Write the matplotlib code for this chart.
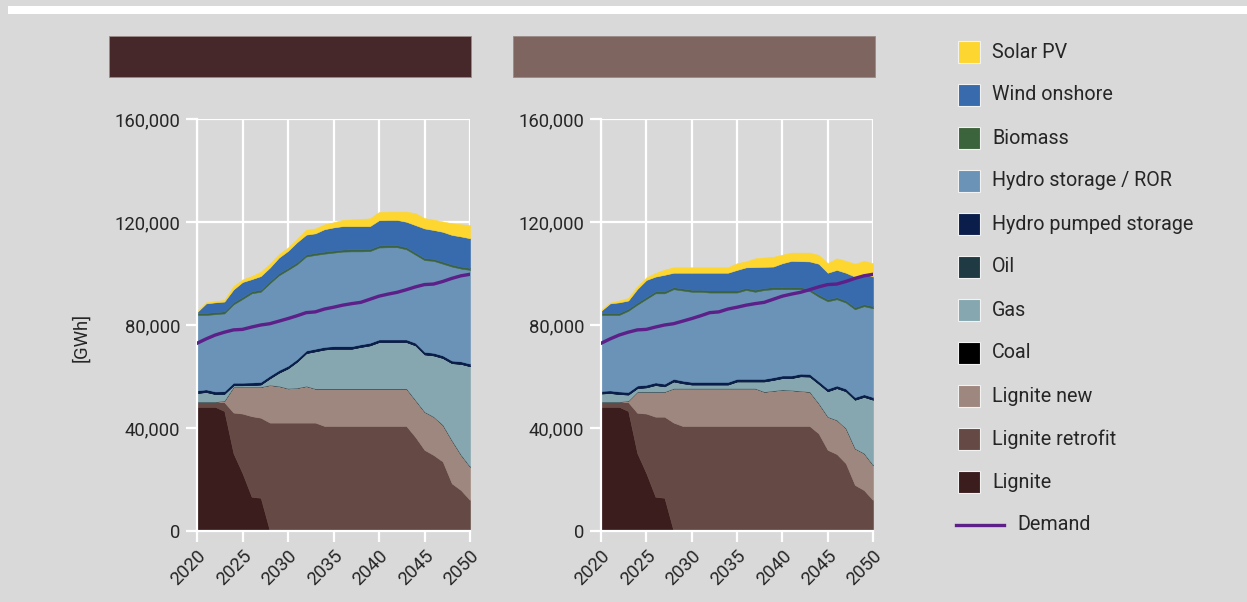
import matplotlib
matplotlib.use('Agg')
import matplotlib.pyplot as plt
import numpy as np
from matplotlib.lines import Line2D
from matplotlib.patches import Rectangle
from matplotlib.ticker import FuncFormatter

W, H = 1247, 602
BG = '#d9d9d9'

years = np.arange(2020, 2051)

# generation per technology, thousand GWh
# --- left scenario ---
lignite_l = [48.2, 48.2, 48.2, 46.6, 30.2, 22.4, 13.3, 12.9, 0, 0, 0, 0, 0, 0, 0, 0,
             0, 0, 0, 0, 0, 0, 0, 0, 0, 0, 0, 0, 0, 0, 0]
retrofit_l = [2.0, 2.0, 2.0, 3.4, 15.8, 23.2, 31.3, 31.1, 42.1, 42.1, 42.1, 42.1, 42.1, 42.1,
              40.8, 40.8, 40.8, 40.8, 40.8, 40.8, 40.8, 40.8, 40.8, 40.8,
              36.5, 31.5, 29.5, 27.0, 18.5, 15.9, 12.0]
lignite_new_l = [0, 0, 0, 0.6, 10.0, 10.4, 11.4, 12.0, 14.6, 14.2, 13.3, 13.5, 14.2, 13.2,
                 14.5, 14.5, 14.5, 14.5, 14.5, 14.5, 14.5, 14.5, 14.5, 14.5,
                 14.3, 14.8, 14.9, 14.2, 16.7, 13.7, 13.0]
coal_l = [0, 0, 0, 0, 0, 0, 0, 0, 0, 0, 0, 0, 0, 0, 0, 0, 0, 0, 0, 0, 0, 0, 0, 0, 0, 0, 0, 0, 0, 0, 0]
gas_l = [3.4, 3.8, 3.0, 2.7, 0.6, 0.6, 0.7, 0.9, 2.6, 5.2, 7.8, 10.2, 12.8, 14.5,
         15.2, 15.5, 15.5, 15.5, 16.2, 16.8, 18.1, 18.1, 18.1, 18.1,
         21.3, 22.3, 23.8, 26.0, 30.0, 35.3, 39.0]
oil_l = [0, 0, 0, 0, 0, 0, 0, 0, 0, 0, 0, 0, 0, 0, 0, 0, 0, 0, 0, 0, 0, 0, 0, 0, 0, 0, 0, 0, 0, 0, 0]
pumped_l = [1.0, 1.0, 1.0, 1.0, 1.0, 1.0, 1.0, 1.0, 1.0, 1.0, 1.0, 1.0, 1.0, 1.0, 1.0, 1.0,
            1.0, 1.0, 1.0, 1.0, 1.0, 1.0, 1.0, 1.0, 1.0, 1.0, 1.0, 1.0, 1.0, 1.0, 1.0]
hydro_l = [29.3, 28.9, 30.0, 30.2, 30.4, 32.5, 34.6, 35.0, 35.9, 36.8, 37.2, 36.8, 36.5, 36.4,
           36.2, 36.3, 36.7, 36.8, 36.1, 35.6, 35.7, 35.8, 35.8, 35.0,
           34.2, 35.6, 35.7, 35.6, 36.5, 36.0, 36.4]
biomass_l = [0.6, 0.8, 0.8, 0.8, 0.8, 0.8, 0.8, 0.8, 0.8, 0.8, 0.8, 0.8, 0.8, 0.8, 0.8, 0.8,
             0.8, 0.8, 0.8, 0.8, 0.8, 0.8, 0.8, 0.8, 0.8, 0.8, 0.8, 0.8, 0.8, 0.8, 0.8]
wind_l = [0.5, 3.7, 3.8, 3.8, 5.0, 5.8, 4.7, 5.3, 5.3, 6.1, 6.6, 7.8, 7.7, 7.6,
          8.7, 9.0, 9.1, 9.0, 9.0, 8.9, 9.8, 9.8, 9.8, 9.9,
          10.7, 11.5, 11.2, 11.6, 11.5, 11.7, 11.5]
solar_l = [0.3, 0.4, 0.5, 0.6, 1.3, 1.0, 1.2, 1.7, 1.5, 1.3, 1.3, 1.3, 1.9, 1.9,
           1.9, 2.0, 2.4, 2.6, 2.8, 3.0, 3.2, 3.2, 3.2, 3.9,
           4.6, 4.0, 4.0, 4.0, 4.5, 4.7, 5.1]

# --- right scenario ---
lignite_r = [48.2, 48.2, 48.2, 46.6, 30.2, 22.4, 13.3, 12.9, 0, 0, 0, 0, 0, 0, 0, 0,
             0, 0, 0, 0, 0, 0, 0, 0, 0, 0, 0, 0, 0, 0, 0]
retrofit_r = [2.0, 2.0, 2.0, 3.4, 15.7, 23.2, 31.1, 31.5, 42.1,
              40.8, 40.8, 40.8, 40.8, 40.8, 40.8, 40.8, 40.8, 40.8, 40.8, 40.8, 40.8, 40.8, 40.8, 40.8,
              37.9, 31.5, 29.9, 26.3, 17.9, 15.9, 12.0]
lignite_new_r = [0, 0, 0, 0.6, 8.2, 8.5, 9.7, 9.7, 13.3,
                 14.6, 14.6, 14.6, 14.6, 14.6, 14.6, 14.6, 14.6, 14.6,
                 13.3, 13.7, 14.1, 13.9, 13.6, 13.3,
                 11.7, 12.9, 13.2, 13.6, 14.2, 14.3, 13.6]
coal_r = [0, 0, 0, 0, 0, 0, 0, 0, 0, 0, 0, 0, 0, 0, 0, 0, 0, 0, 0, 0, 0, 0, 0, 0, 0, 0, 0, 0, 0, 0, 0]
gas_r = [3.2, 3.4, 3.0, 2.4, 1.4, 1.7, 2.6, 2.1, 2.7, 2.0, 1.5, 1.5, 1.5, 1.5, 1.5,
         2.7, 2.7, 2.7, 4.0, 4.2, 4.5, 4.7, 5.7, 5.9,
         7.6, 9.9, 12.4, 14.4, 18.9, 21.9, 25.4]
oil_r = [0, 0, 0, 0, 0, 0, 0, 0, 0, 0, 0, 0, 0, 0, 0, 0, 0, 0, 0, 0, 0, 0, 0, 0, 0, 0, 0, 0, 0, 0, 0]
pumped_r = [1.0, 1.0, 1.0, 1.0, 1.0, 1.0, 1.0, 1.0, 1.0, 1.0, 1.0, 1.0, 1.0, 1.0, 1.0, 1.0,
            1.0, 1.0, 1.0, 1.0, 1.0, 1.0, 1.0, 1.0, 1.0, 1.0, 1.0, 1.0, 1.0, 1.0, 1.0]
hydro_r = [29.5, 29.3, 29.7, 31.5, 31.4, 33.3, 34.6, 35.1,
           34.8, 35.0, 35.0, 35.0, 34.7, 34.7, 34.7,
           33.5, 34.5, 33.8, 34.5, 34.2, 33.5, 33.5, 32.8, 32.2,
           32.8, 33.9, 33.5, 33.4, 34.1, 34.2, 34.5]
biomass_r = [0.8, 0.8, 0.8, 0.8, 0.8, 0.8, 0.8, 0.8, 0.8, 0.8, 0.8, 0.8, 0.8, 0.8, 0.8, 0.8,
             0.8, 0.8, 0.8, 0.8, 0.8, 0.8, 0.8, 0.8, 0.8, 0.8, 0.8, 0.8, 0.8, 0.8, 0.8]
wind_r = [0.8, 3.7, 4.1, 3.2, 5.3, 6.6, 5.7, 6.4,
          5.6, 6.1, 6.6, 6.6, 6.9, 6.9, 6.9,
          8.0, 8.0, 8.8, 8.2, 8.0, 9.3, 10.2, 10.1, 10.7,
          12.0, 10.3, 10.6, 10.8, 11.9, 11.9, 11.5]
solar_r = [0.3, 0.3, 0.7, 1.0, 1.0, 1.0, 1.4, 2.0,
           2.1, 2.1, 2.1, 2.1, 2.1, 2.1, 2.1,
           2.6, 2.3, 3.4, 3.6, 3.8, 3.3, 3.2, 3.3, 3.4,
           3.4, 3.7, 4.5, 4.6, 5.0, 4.9, 5.2]

demand = [72.9, 74.6, 76.1, 77.2, 78.1, 78.3, 79.2, 80.0, 80.5, 81.5, 82.5, 83.6, 84.8, 85.1,
          86.2, 86.9, 87.7, 88.3, 88.8, 90.0, 91.2, 92.0, 92.7, 93.7,
          94.8, 95.7, 95.9, 96.9, 98.1, 99.1, 99.7]

# bottom -> top stacking order
tech_names = ['Lignite', 'Lignite retrofit', 'Lignite new', 'Coal', 'Gas', 'Oil',
              'Hydro pumped storage', 'Hydro storage / ROR', 'Biomass', 'Wind onshore', 'Solar PV']
tech_colors = ['#3b1d1e', '#654944', '#9e877e', '#000000', '#86a7af', '#1f3a43',
               '#0b1e4b', '#6a93b7', '#3b633c', '#386aae', '#fed630']
demand_color = '#5d1f88'
bar_colors = ['#46282a', '#7f6560']

left_layers = [lignite_l, retrofit_l, lignite_new_l, coal_l, gas_l, oil_l,
               pumped_l, hydro_l, biomass_l, wind_l, solar_l]
right_layers = [lignite_r, retrofit_r, lignite_new_r, coal_r, gas_r, oil_r,
                pumped_r, hydro_r, biomass_r, wind_r, solar_r]

plt.rcParams['font.family'] = ['Roboto', 'DejaVu Sans']
TXT = '#262626'


def fx(x):
    return x / W


def fy(y):
    return 1 - y / H


def draw_panel(ax, layers):
    stacks = [np.array(v) * 1000 for v in layers]
    polys = ax.stackplot(years, *stacks, colors=tech_colors, linewidth=0.4, zorder=2)
    for p, c in zip(polys, tech_colors):
        p.set_edgecolor(c)
    ax.plot(years, np.array(demand) * 1000, color=demand_color, lw=2.4, zorder=3,
            solid_joinstyle='round')

    ax.set_facecolor(BG)
    ax.set_xlim(2020, 2050)
    ax.set_ylim(0, 160000)
    ax.set_xticks(range(2020, 2051, 5))
    ax.set_yticks(range(0, 160001, 40000))
    ax.yaxis.set_major_formatter(FuncFormatter(lambda v, _: f'{int(v):,}'))
    ax.grid(True, color='white', lw=1.6)
    ax.set_axisbelow(True)
    for s in ax.spines.values():
        s.set_color('white')
        s.set_linewidth(1.6)
    ax.spines['top'].set_visible(False)
    ax.spines['right'].set_visible(False)
    ax.tick_params(colors='white', length=8, width=1.6, labelcolor=TXT, labelsize=13.3)
    ax.tick_params(axis='y', pad=4)
    for lab in ax.get_xticklabels():
        lab.set_rotation(45)
        lab.set_ha('right')
        lab.set_va('top')
        lab.set_rotation_mode('anchor')


fig = plt.figure(figsize=(W / 100, H / 100), dpi=100, facecolor=BG)

# white band along the top edge
fig.patches.append(Rectangle((fx(8), fy(13.5)), 1 - fx(8), 8 / H, transform=fig.transFigure,
                             facecolor='white', edgecolor='none', zorder=0))

ax_l = fig.add_axes([fx(197), fy(531), fx(273), 412 / H])
ax_r = fig.add_axes([fx(601), fy(531), fx(272), 412 / H])
draw_panel(ax_l, left_layers)
draw_panel(ax_r, right_layers)
ax_l.set_ylabel('[GWh]', fontsize=13.3, color=TXT)
ax_l.yaxis.set_label_coords(-0.39, 0.47)

# scenario header bars
for x0, col in zip([109, 513], bar_colors):
    fig.patches.append(Rectangle((fx(x0), fy(77)), fx(362), 41 / H, transform=fig.transFigure,
                                 facecolor=col, edgecolor='#9a8a88', lw=0.6, zorder=1))

# legend, drawn top -> bottom
for i, (name, col) in enumerate(zip(tech_names[::-1], tech_colors[::-1])):
    yc = 52 + 43 * i
    fig.patches.append(Rectangle((fx(958), fy(yc + 11)), fx(22), 22 / H, transform=fig.transFigure,
                                 facecolor=col, edgecolor='#f2f2f2', lw=0.8))
    fig.text(fx(992), fy(yc), name, fontsize=14.2, color=TXT, va='center', ha='left')
yd = 52 + 43 * len(tech_names)
fig.add_artist(Line2D([fx(956), fx(1004)], [fy(yd), fy(yd)], transform=fig.transFigure,
                      color=demand_color, lw=2.4))
fig.text(fx(1017), fy(yd), 'Demand', fontsize=14.2, color=TXT, va='center', ha='left')

fig.savefig('out.png', dpi=100, facecolor=BG)
